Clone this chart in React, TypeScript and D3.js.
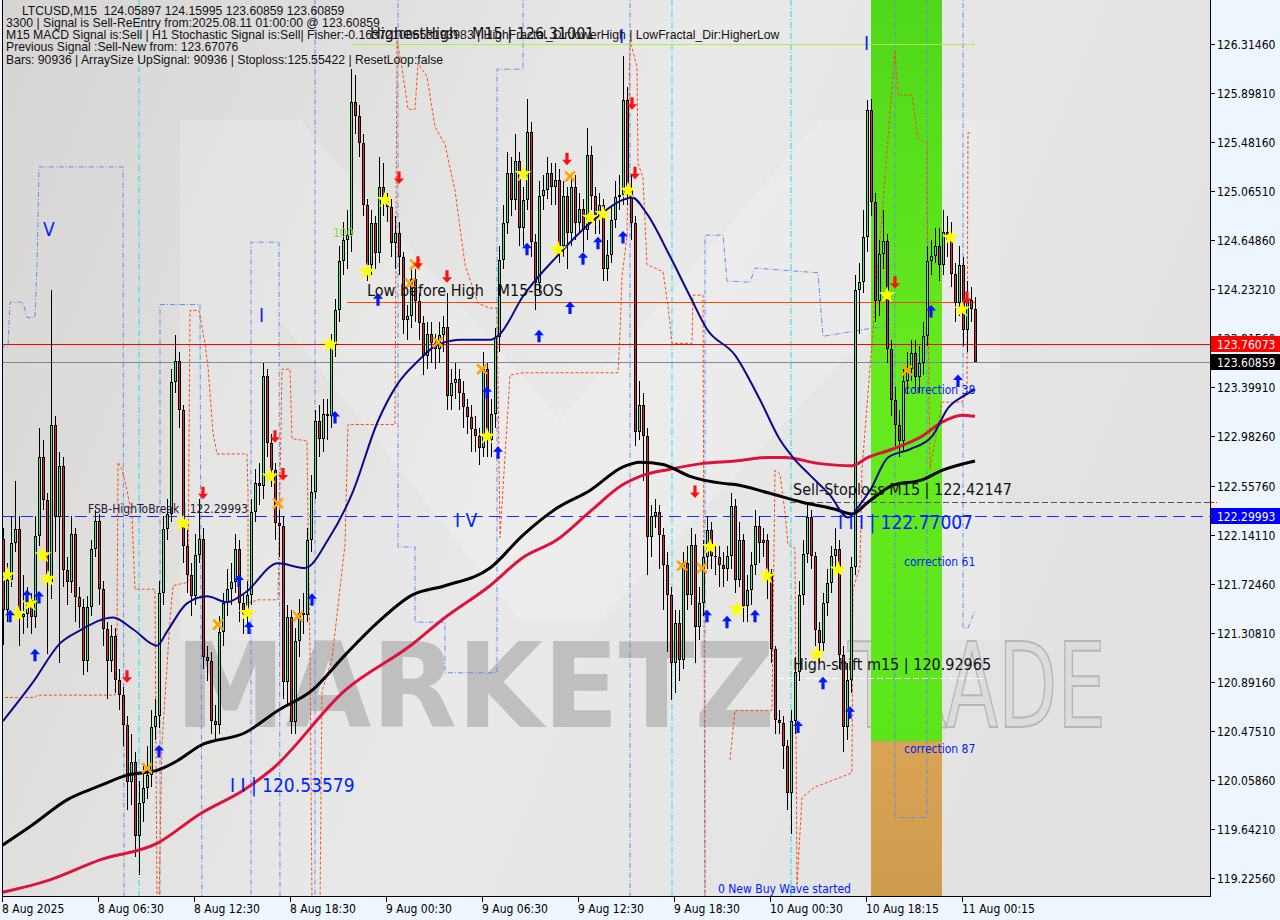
import React from "react";
import * as d3 from "d3";

const W = 1280, H = 920;
const PL = 3, PR = 1210, PB = 896;

const open0 = 122.11;
const closes = [
121.50,121.76,122.07,122.19,121.44,121.47,121.59,121.44,122.13,122.80,
122.44,121.74,123.08,122.29,122.73,121.84,121.74,122.15,121.61,121.53,
121.07,121.53,122.02,122.26,121.68,121.34,121.07,121.28,120.91,120.78,
120.53,120.04,120.21,119.58,119.86,119.99,120.10,120.51,120.60,121.65,
122.19,122.32,123.44,123.62,123.20,122.05,121.80,121.62,121.97,122.11,
121.10,121.07,120.56,120.53,121.32,121.56,121.68,121.74,122.02,121.56,
121.47,121.63,122.34,122.58,122.56,123.49,122.92,122.69,122.24,122.22,
120.89,121.44,120.55,121.24,121.48,121.46,122.10,122.51,123.11,122.96,
123.17,123.15,123.76,124.05,124.47,124.65,124.69,125.82,125.70,125.47,
124.95,124.44,124.79,124.54,125.10,124.98,124.93,124.62,124.71,124.50,
123.97,124.00,124.32,124.13,123.94,123.66,123.85,123.77,123.72,123.84,
123.91,123.32,123.43,123.47,123.35,123.23,123.14,123.04,122.98,122.88,
123.55,122.95,123.17,123.82,124.48,124.79,125.22,124.99,125.32,124.75,
124.99,125.57,124.63,124.28,125.02,125.07,125.22,125.10,125.16,124.60,
125.02,124.71,125.10,124.79,124.91,124.73,125.37,125.02,124.86,124.95,
124.40,124.52,124.82,125.01,125.03,125.84,125.08,124.79,123.02,123.25,
122.98,122.12,122.30,122.34,122.14,121.89,121.63,121.05,121.39,121.08,
121.90,121.63,122.06,121.36,121.56,121.95,122.18,121.96,121.95,121.89,
121.85,121.96,122.39,121.76,122.10,121.54,121.67,121.89,122.22,122.07,
122.10,121.82,121.17,120.57,120.54,120.35,119.95,120.56,120.98,121.63,
121.98,122.29,121.96,121.33,121.22,121.56,121.73,121.96,122.02,121.12,
120.51,120.91,121.87,124.22,124.29,124.67,125.75,124.97,124.13,124.53,
124.64,123.72,123.29,123.08,122.94,123.45,123.55,123.69,123.48,123.60,
123.83,124.47,124.51,124.60,124.44,124.72,124.65,124.36,124.11,124.44,
123.88,124.14,124.06,123.61];

const highs = [
122.20,121.90,122.30,122.60,122.30,121.80,121.70,121.65,122.30,123.05,
122.95,122.50,124.22,123.15,122.85,122.80,121.95,122.30,122.20,121.70,
121.60,121.62,122.10,122.35,122.32,121.75,121.40,121.38,121.35,121.00,
120.85,120.60,120.45,120.30,120.05,120.20,120.35,120.65,120.75,121.75,
122.30,122.45,123.55,123.84,123.70,123.25,122.20,121.90,122.15,122.45,
122.20,121.20,121.15,120.70,121.45,121.65,121.85,121.90,122.15,122.10,
121.65,121.75,122.45,122.70,122.75,123.60,123.55,123.00,122.75,122.35,
122.30,121.55,121.50,121.35,121.60,121.65,122.20,122.65,123.20,123.25,
123.30,123.30,123.85,124.15,124.60,124.80,124.90,126.10,126.05,125.80,
125.55,125.00,124.90,124.85,125.35,125.30,125.05,125.00,124.85,124.80,
124.55,124.10,124.40,124.40,124.20,124.00,123.95,123.95,123.85,123.95,
124.00,124.20,123.55,123.60,123.55,123.45,123.30,123.25,123.15,123.05,
123.70,123.60,123.30,123.90,124.60,124.95,125.40,125.35,125.55,125.40,
125.10,125.85,125.65,124.70,125.15,125.20,125.35,125.30,125.30,125.25,
125.15,125.10,125.20,125.20,125.05,125.00,125.60,125.45,125.10,125.05,
125.00,124.65,124.95,125.15,125.20,126.21,125.95,125.20,124.85,123.45,
123.35,123.05,122.40,122.45,122.40,122.20,122.00,121.70,121.50,121.50,
122.00,122.05,122.20,122.15,121.70,122.10,122.30,122.25,122.05,122.05,
122.00,122.05,122.50,122.45,122.25,122.15,121.80,122.00,122.35,122.30,
122.20,122.15,121.85,121.20,120.65,120.60,120.40,120.65,121.10,121.75,
122.10,122.40,122.35,122.00,121.40,121.65,121.85,122.05,122.20,122.10,
121.20,121.05,121.95,124.35,124.45,124.90,125.84,125.85,125.05,124.65,
124.90,124.70,123.80,123.40,123.20,123.55,123.70,123.80,123.80,123.75,
123.95,124.60,124.65,124.75,124.75,124.90,124.85,124.80,124.45,124.60,
124.50,124.30,124.25,124.16];

const lows = [
121.21,121.40,121.70,122.00,121.20,121.30,121.35,121.30,121.35,122.05,
122.35,121.13,121.60,122.00,121.05,121.70,121.55,121.65,121.40,121.35,
120.95,120.98,121.45,121.95,121.55,121.20,120.75,120.98,120.80,120.65,
120.35,119.80,119.85,119.40,119.25,119.70,119.90,120.00,120.40,120.50,
121.55,122.10,122.25,123.35,123.05,121.90,121.65,121.45,121.55,121.90,
121.00,120.90,120.45,120.40,120.45,121.20,121.45,121.55,121.65,121.40,
121.30,121.35,121.55,122.25,122.40,122.45,122.80,122.55,122.10,121.95,
120.75,120.70,120.45,120.45,121.10,121.30,121.40,122.00,122.45,122.80,
122.85,122.95,123.05,123.65,123.95,124.35,124.40,124.55,125.55,125.35,
124.85,124.30,124.35,124.40,124.45,124.85,124.80,124.50,124.40,124.35,
123.85,123.80,123.90,123.95,123.80,123.50,123.55,123.60,123.55,123.60,
123.70,123.20,123.20,123.30,123.20,123.05,123.00,122.85,122.85,122.74,
122.80,122.80,122.80,123.05,123.70,124.40,124.70,124.85,124.90,124.60,
124.60,124.90,124.50,124.05,124.20,124.90,125.00,124.95,124.95,124.45,
124.50,124.40,124.60,124.65,124.70,124.55,124.65,124.90,124.70,124.70,
124.30,124.30,124.45,124.75,124.90,124.95,124.95,124.65,122.90,122.95,
122.60,121.80,121.95,122.20,121.85,121.50,121.15,120.74,120.80,120.90,
121.00,121.50,121.55,121.05,121.25,121.45,121.85,121.85,121.80,121.70,
121.70,121.75,121.85,121.65,121.70,121.40,121.40,121.55,121.80,121.90,
121.95,121.60,121.05,120.45,120.45,120.15,119.80,119.60,120.45,120.90,
121.55,121.90,121.85,121.20,121.05,121.15,121.45,121.65,121.85,121.00,
120.30,120.40,120.80,121.80,123.85,124.20,124.55,124.85,123.95,124.00,
124.40,123.60,123.15,122.90,122.80,122.85,123.35,123.45,123.35,123.35,
123.50,123.75,124.35,124.45,124.30,124.35,124.50,124.25,123.95,124.00,
123.75,123.70,123.95,123.61];

const timeLabels = ["8 Aug 2025","8 Aug 06:30","8 Aug 12:30","8 Aug 18:30","9 Aug 00:30","9 Aug 06:30","9 Aug 12:30","9 Aug 18:30","10 Aug 00:30","10 Aug 18:15","11 Aug 00:15"];
const timeLabelBars = [0,24,48,72,96,120,144,168,192,216,240];
const priceTicks = [126.3146,125.8981,125.4816,125.0651,124.6486,124.2321,123.8156,123.3991,122.9826,122.5576,122.1411,121.7246,121.3081,120.8916,120.4751,120.0586,119.6421,119.2256];

const navyMA = [[0,120.56],[7.5,120.89],[14.25,121.22],[19.25,121.33],[27.5,121.44],[32.5,121.34],[38.5,121.20],[41,121.32],[46,121.56],[51,121.62],[56,121.57],[60.5,121.65],[68.75,121.90],[75.5,121.86],[81.25,122.10],[87.25,122.49],[93.75,123.11],[98.75,123.43],[103.75,123.62],[108.75,123.76],[114.75,123.80],[121.75,123.80],[124.25,123.85],[130,124.17],[138.5,124.51],[146.75,124.79],[155,124.99],[157.25,125.01],[161,124.87],[166.75,124.51],[171.75,124.17],[176,123.89],[183,123.67],[189.25,123.29],[194.25,122.95],[198,122.78],[201.75,122.65],[206.75,122.48],[211.25,122.29],[214.25,122.40],[216.75,122.52],[221.25,122.80],[226.75,122.87],[232.25,122.98],[236.25,123.22],[240.5,123.33],[243,123.38]];
const redMA = [[-0.75,119.10],[11.75,119.21],[24.25,119.38],[38.5,119.52],[49.25,119.77],[60.5,119.98],[67.25,120.15],[85.5,120.82],[102.25,121.21],[110.5,121.44],[121.75,121.71],[130,121.95],[138.5,122.10],[146.75,122.34],[155,122.57],[159.25,122.64],[166.75,122.70],[175,122.75],[183,122.77],[191.25,122.80],[195.5,122.80],[203.75,122.75],[212.25,122.73],[216.25,122.80],[222.25,122.87],[229.75,122.98],[234.75,123.10],[239.75,123.16],[243,123.15]];
const blackMA = [[-0.75,119.49],[7.5,119.68],[16,119.89],[24.25,120.01],[31,120.10],[38.5,120.14],[43.5,120.22],[49.25,120.35],[60.5,120.46],[68.75,120.65],[77.25,120.82],[85.5,121.12],[93.75,121.40],[102.25,121.63],[110.5,121.71],[121.75,121.86],[130,122.14],[138.5,122.37],[146.75,122.52],[155,122.72],[159.25,122.76],[165,122.74],[171.75,122.64],[180,122.58],[183,122.57],[191.25,122.50],[199.75,122.42],[208,122.36],[212.25,122.32],[216.25,122.42],[222.25,122.56],[229.75,122.61],[234.75,122.69],[243,122.77]];

const blueSteps = [
  [[-0.75,123.74],[1.25,123.74],[1.75,124.12],[5,124.12],[6,123.99],[8,123.99],[8.5,124.43],[9,125.27],[30,125.27],[30.25,119.0]],
  [[39.25,119.0],[39.25,124.10],[49.25,124.10],[49.75,119.0]],
  [[62,119.0],[62,124.63],[69,124.63],[69.25,119.0]],
  [[78,119.0],[78,126.75]],
  [[98.75,126.75],[98.75,122.04],[103,122.04],[103,121.40],[110.5,121.40],[110.5,120.97],[123.5,120.97],[123.5,126.10],[130,126.10],[130,126.75]],
  [[156.75,126.75],[156.75,119.0]],
  [[175.5,119.0],[175.5,124.69],[180,124.69],[181,124.30],[186.75,124.29],[188,124.41],[203.75,124.37],[205,123.83],[221,123.92]],
  [[223,126.75],[223,119.74],[231,119.74],[231,126.75]],
  [[240,126.75],[240,121.35],[241.25,121.35],[243,121.50]],
];
const orangeSteps = [
  [[-0.75,120.76],[8,120.76],[8.5,120.78],[28,120.78],[28.5,121.28],[28.75,122.76],[29.75,122.70],[31,122.52],[32.25,122.29],[33,121.68],[38,121.68],[38.5,119.0]],
  [[39,119.0],[39.75,120.37],[41.75,121.42],[42.5,121.71],[46.25,121.74],[46.75,124.05],[49,124.05],[50.5,123.77],[51.25,123.57],[52.5,123.01],[53.5,122.83],[61,122.83],[61.25,122.50],[61.25,121.56],[63.75,121.59],[68.75,121.59],[69.75,123.55],[71.75,123.55],[72.25,122.96],[76,122.94],[76.25,122.22],[76.75,121.17],[77.25,119.0]],
  [[79.25,119.0],[79.75,120.81],[82.25,121.09],[85.5,122.06],[86.25,123.08],[98,123.08],[98.5,126.35],[99.75,126.11],[101.25,125.76],[103,125.76],[103.75,126.15],[106,126.04],[108,125.61],[110.5,125.46],[113,125.07],[115.5,124.44],[118.75,124.11],[121.75,124.07],[123.5,124.07],[124.25,122.12],[126.75,123.50],[130,123.52],[153.75,123.52],[154.25,123.85],[154.75,124.34],[156,124.68],[156.75,126.35],[158.5,126.12],[158.75,125.30],[160,125.18],[161,124.44],[165,124.38],[166.25,124.09],[167.25,123.77],[172.25,123.77],[172.5,124.18],[175,124.18],[175.5,119.0]],
  [[181.75,120.23],[183,120.65],[192.25,120.65],[193,122.69],[194.25,122.66],[195.5,122.33],[196.25,122.06],[198,122.03],[198.5,119.16],[199.75,119.91],[203,120.00],[206.25,120.04],[212.25,120.12],[212.5,121.68],[214.25,121.87],[214.75,122.70],[223,126.26],[223.75,125.88],[227.25,125.88],[228.75,125.51],[231,125.47],[231.25,124.06],[231.75,122.70],[234.75,123.27],[239.75,123.27],[241,123.36],[241.25,125.56],[242.25,125.56]],
];
const cyanVerticals = [34, 167.25, 197];

const stars = [[1,121.80],[3.75,121.47],[6.75,121.56],[10,121.97],[11.25,121.77],[45,122.24],[61,121.48],[66.75,122.64],[81.75,123.76],[91,124.38],[95.5,124.99],[121,122.98],[130,125.21],[138.75,124.57],[146.75,124.84],[150,124.87],[156.25,125.07],[176.75,122.04],[183.5,121.51],[191,121.79],[203.5,121.13],[208.75,121.85],[221,124.18],[236.75,124.67],[239.75,124.06]];
const upArrows = [[1.75,121.45],[6,121.62],[9,121.61],[8,121.12],[39,120.30],[59,121.75],[61.5,121.35],[77.25,121.59],[83,123.14],[93.75,124.14],[121,123.35],[123.75,122.84],[131,124.57],[134,123.83],[141.75,124.07],[145,124.49],[148.75,124.62],[155,124.67],[176,121.45],[181,121.40],[188,121.45],[198.75,120.51],[205,120.88],[211.75,120.63],[232,124.04],[238.75,123.45]];
const downArrows = [[31,120.94],[50,122.50],[68,122.98],[70,122.66],[99,125.18],[103.75,124.46],[111,124.34],[141,125.34],[157.25,125.81],[158,125.22],[173,122.51],[223,124.29],[241,124.16]];
const crosses = [[36,120.16],[53.75,121.38],[68.75,122.41],[73.75,121.45],[101.75,124.28],[103,124.44],[108.75,123.78],[119.75,123.55],[141.75,125.19],[169.75,121.88],[174.75,121.86],[226,123.54]];

const levelSignal = 123.76073;
const levelCurrent = 123.60859;
const levelFSB = 122.29993;
const levelStop = 122.42147;
const levelHighShift = 120.92965;
const levelHighest = 126.31001;
const levelLowBeforeHigh = 124.12;
const bandBars = [217, 234.75];
const bandSplit = 120.39;

const infoLines = [
  "LTCUSD,M15  124.05897 124.15995 123.60859 123.60859",
  "3300 | Signal is Sell-ReEntry from:2025.08.11 01:00:00 @ 123.60859",
  "M15 MACD Signal is:Sell | H1 Stochastic Signal is:Sell| Fisher:-0.16372100653193983 | HighFractal_Dir:lowerHigh | LowFractal_Dir:HigherLow",
  "Previous Signal :Sell-New from: 123.67076",
  "Bars: 90936 | ArraySize UpSignal: 90936 | Stoploss:125.55422 | ResetLoop:false",
];

const FONT = "'DejaVu Sans Condensed', 'DejaVu Sans', sans-serif";
const INFO_FONT = "'Liberation Sans', Arial, sans-serif";

export default function App() {
  const x = d3.scaleLinear().domain([0, 243]).range([3, 975]);
  const y = d3.scaleLinear().domain([119.2256, 126.3146]).range([878, 44]);
  const line = d3.line<number[]>().x((d) => x(d[0])).y((d) => y(d[1]));
  const smooth = d3.line<number[]>().x((d) => x(d[0])).y((d) => y(d[1])).curve(d3.curveMonotoneX);
  const starPath = d3.symbol().type(d3.symbolStar).size(95)() as string;
  const upPath = "M0,-6.5 L5,-1 L1.6,-1 L1.6,6 L-1.6,6 L-1.6,-1 L-5,-1 Z";
  const downPath = "M0,6.5 L5,1 L1.6,1 L1.6,-6 L-1.6,-6 L-1.6,1 L-5,1 Z";

  const candles = closes.map((c, i) => {
    const o = i === 0 ? open0 : closes[i - 1];
    const h = Math.max(highs[i], o, c);
    const l = Math.min(lows[i], o, c);
    const cx = Math.round(x(i));
    const top = Math.round(y(Math.max(o, c)));
    const bot = Math.round(y(Math.min(o, c)));
    const bh = Math.max(bot - top, 1);
    const up = c >= o;
    return (
      <g key={i}>
        <line x1={cx + 0.5} x2={cx + 0.5} y1={Math.round(y(h))} y2={Math.round(y(l))} stroke="#000" strokeWidth={1} />
        <rect x={cx - 1} y={top} width={3} height={bh} fill="#000" />
        {bh > 2 && <rect x={cx} y={top + 1} width={1} height={bh - 2} fill={up ? "#3ef08a" : "#e0283f"} />}
      </g>
    );
  });

  const bx0 = x(bandBars[0]), bx1 = x(bandBars[1]);
  const yBand = y(bandSplit);

  const priceBox = (p: number, bg: string, key: string) => (
    <g key={key}>
      <rect x={PR + 1} y={Math.round(y(p)) - 8} width={69} height={16} fill={bg} />
      <text x={1217} y={Math.round(y(p)) + 4.5} fontSize={12} fill="#fff" fontFamily={FONT}>{p.toFixed(5)}</text>
    </g>
  );

  return (
    <svg width={W} height={H} style={{ position: "fixed", left: 0, top: 0, display: "block" }} xmlns="http://www.w3.org/2000/svg">
      <defs>
        <linearGradient id="bg" x1="0" x2="1" y1="0" y2="0.3">
          <stop offset="0" stopColor="#d6d5d3" />
          <stop offset="0.55" stopColor="#e9e9e9" />
          <stop offset="1" stopColor="#e2e2e2" />
        </linearGradient>
        <linearGradient id="green" x1="0" x2="0" y1="0" y2="1">
          <stop offset="0" stopColor="#4fd81a" />
          <stop offset="0.5" stopColor="#66ea1e" />
          <stop offset="1" stopColor="#5be61c" />
        </linearGradient>
        <linearGradient id="tan" x1="0" x2="0" y1="0" y2="1">
          <stop offset="0" stopColor="#d9a454" />
          <stop offset="1" stopColor="#cf9c4e" />
        </linearGradient>
        <clipPath id="plot">
          <rect x={PL} y={0} width={PR - PL} height={PB} />
        </clipPath>
      </defs>
      <rect x={0} y={0} width={W} height={H} fill="#eef6fd" />
      <rect x={PL} y={0} width={PR - PL} height={PB} fill="url(#bg)" />
      <g clipPath="url(#plot)">
        <path d="M180,640 L180,120 L300,120 L560,420 L820,120 L1000,120 L1000,640 L900,640 L900,300 L600,620 L520,620 L280,320 L280,640 Z" fill="#ffffff" opacity={0.18} />
        <text x={175} y={727} fontFamily="'DejaVu Sans', sans-serif" fontWeight="bold" fontSize={118} fill="#b9b9b9" opacity={0.85} textLength={600} lengthAdjust="spacingAndGlyphs">MARKETZ</text>
        <text x={848} y={727} fontFamily="'DejaVu Sans', sans-serif" fontSize={118} fill="#dcdcdc" stroke="#b3b3b3" strokeWidth={2} opacity={0.9} textLength={258} lengthAdjust="spacingAndGlyphs">TRADE</text>
        <rect x={bx0} y={0} width={bx1 - bx0} height={yBand} fill="url(#green)" />
        <rect x={bx0} y={yBand} width={bx1 - bx0} height={PB - yBand} fill="url(#tan)" />
        {cyanVerticals.map((b, i) => (
          <line key={"cy" + i} x1={x(b)} x2={x(b)} y1={0} y2={PB} stroke="#19e3ef" strokeWidth={1} strokeDasharray="6,2,1,2" />
        ))}
        {blueSteps.map((s, i) => (
          <path key={"bs" + i} d={line(s) as string} fill="none" stroke="#5b8ff0" strokeWidth={1} strokeDasharray="5,2,1,2" />
        ))}
        {orangeSteps.map((s, i) => (
          <path key={"os" + i} d={line(s) as string} fill="none" stroke="#ff4a10" strokeWidth={1} strokeDasharray="3,2" />
        ))}
        <line x1={x(87)} x2={x(243)} y1={y(levelHighest)} y2={y(levelHighest)} stroke="#a8f040" strokeWidth={1} />
        <line x1={x(86)} x2={x(243)} y1={Math.round(y(levelLowBeforeHigh)) + 0.5} y2={Math.round(y(levelLowBeforeHigh)) + 0.5} stroke="#ff4500" strokeWidth={1} />
        <line x1={PL} x2={PR} y1={Math.round(y(levelFSB)) + 0.5} y2={Math.round(y(levelFSB)) + 0.5} stroke="#1030ff" strokeWidth={1} strokeDasharray="12,6" />
        <line x1={x(196.75)} x2={PR} y1={Math.round(y(levelStop)) + 0.5} y2={Math.round(y(levelStop)) + 0.5} stroke="#555" strokeWidth={1} strokeDasharray="6,3" />
        <line x1={x(193.75)} x2={x(245.5)} y1={Math.round(y(levelHighShift)) + 0.5} y2={Math.round(y(levelHighShift)) + 0.5} stroke="#ffffff" strokeWidth={1} strokeDasharray="6,3" />
        <line x1={PL} x2={PR} y1={Math.round(y(levelSignal)) + 0.5} y2={Math.round(y(levelSignal)) + 0.5} stroke="#ff0000" strokeWidth={1} />
        <line x1={PL} x2={PR} y1={Math.round(y(levelCurrent)) + 0.5} y2={Math.round(y(levelCurrent)) + 0.5} stroke="#7a8a9a" strokeWidth={1} />
        {candles}
        <path d={smooth(redMA) as string} fill="none" stroke="#dc143c" strokeWidth={3} />
        <path d={smooth(blackMA) as string} fill="none" stroke="#000" strokeWidth={3} />
        <path d={smooth(navyMA) as string} fill="none" stroke="#0a0a8a" strokeWidth={2} />
        {crosses.map((d, i) => (
          <g key={"x" + i} transform={`translate(${x(d[0])},${y(d[1])})`} stroke="#ffa500" strokeWidth={2.6} strokeLinecap="square">
            <line x1={-4} y1={-4} x2={4} y2={4} />
            <line x1={-4} y1={4} x2={4} y2={-4} />
          </g>
        ))}
        {stars.map((d, i) => (
          <path key={"s" + i} d={starPath} transform={`translate(${x(d[0])},${y(d[1])})`} fill="#ffff00" />
        ))}
        {upArrows.map((d, i) => (
          <path key={"u" + i} d={upPath} transform={`translate(${x(d[0])},${y(d[1])})`} fill="#0018ff" />
        ))}
        {downArrows.map((d, i) => (
          <path key={"d" + i} d={downPath} transform={`translate(${x(d[0])},${y(d[1])})`} fill="#ff1010" />
        ))}
        <text x={370} y={39} fontSize={16} fontFamily={FONT} fill="#111" style={{ whiteSpace: "pre" }}>HighestHigh   M15 | 126.31001</text>
        <text x={43} y={236} fontSize={19} fontFamily={FONT} fill="#0020ff">V</text>
        <text x={259} y={322} fontSize={19} fontFamily={FONT} fill="#0020ff">I</text>
        <text x={619} y={43} fontSize={19} fontFamily={FONT} fill="#0020ff">I</text>
        <text x={864} y={50} fontSize={19} fontFamily={FONT} fill="#0020ff">I</text>
        <text x={333} y={237} fontSize={12} fontFamily={FONT} fill="#9acd32">100</text>
        <text x={367} y={296} fontSize={16} fontFamily={FONT} fill="#111" style={{ whiteSpace: "pre" }}>Low before High   M15-BOS</text>
        <text x={88} y={513} fontSize={12} fontFamily={FONT} fill="#2a1838">FSB-HighToBreak | 122.29993</text>
        <text x={455} y={527} fontSize={19} fontFamily={FONT} fill="#0020ff" style={{ whiteSpace: "pre" }}>I V</text>
        <text x={230} y={792} fontSize={19} fontFamily={FONT} fill="#0020ff">I I | 120.53579</text>
        <text x={838} y={529} fontSize={19} fontFamily={FONT} fill="#0020ff">I I I | 122.77007</text>
        <text x={793} y={495} fontSize={16} fontFamily={FONT} fill="#111">Sell-Stoploss M15 | 122.42147</text>
        <text x={793} y={670} fontSize={16} fontFamily={FONT} fill="#111">High-shift m15 | 120.92965</text>
        <text x={904} y={394} fontSize={12} fontFamily={FONT} fill="#0020ff">correction 38</text>
        <text x={904} y={566} fontSize={12} fontFamily={FONT} fill="#0020ff">correction 61</text>
        <text x={904} y={753} fontSize={12} fontFamily={FONT} fill="#0020ff">correction 87</text>
        <text x={718} y={893} fontSize={12} fontFamily={FONT} fill="#0020ff">0 New Buy Wave started</text>
        {infoLines.map((t, i) => (
          <text key={"info" + i} x={i === 0 ? 22 : 6} y={14.5 + i * 12.3} fontSize={12.2} fontFamily={INFO_FONT} fill="#111" style={{ whiteSpace: "pre" }}>{t}</text>
        ))}
      </g>
      <line x1={PL - 0.5} x2={PL - 0.5} y1={0} y2={PB} stroke="#000" />
      <line x1={PL - 1} x2={PR + 0.5} y1={PB + 0.5} y2={PB + 0.5} stroke="#000" />
      <line x1={PR + 0.5} x2={PR + 0.5} y1={0} y2={PB + 1} stroke="#000" />
      {priceTicks.map((p, i) => (
        <g key={"pt" + i}>
          <line x1={PR} x2={PR + 5} y1={Math.round(y(p)) + 0.5} y2={Math.round(y(p)) + 0.5} stroke="#000" />
          <text x={1217} y={Math.round(y(p)) + 4.5} fontSize={12} fontFamily={FONT} fill="#000">{p.toFixed(5)}</text>
        </g>
      ))}
      <line x1={PR + 1} x2={PR + 7} y1={Math.round(y(levelStop)) + 0.5} y2={Math.round(y(levelStop)) + 0.5} stroke="#ff0000" strokeDasharray="3,2" />
      {priceBox(levelSignal, "#ff0000", "sig")}
      {priceBox(levelCurrent, "#000000", "cur")}
      {priceBox(levelFSB, "#0000ff", "fsb")}
      {timeLabelBars.map((b, i) => (
        <g key={"tl" + i}>
          <line x1={Math.round(x(b)) - 0.5} x2={Math.round(x(b)) - 0.5} y1={PB} y2={PB + 6} stroke="#000" />
          <text x={Math.round(x(b)) - 1} y={913} fontSize={12} fontFamily={FONT} fill="#000">{timeLabels[i]}</text>
        </g>
      ))}
    </svg>
  );
}
